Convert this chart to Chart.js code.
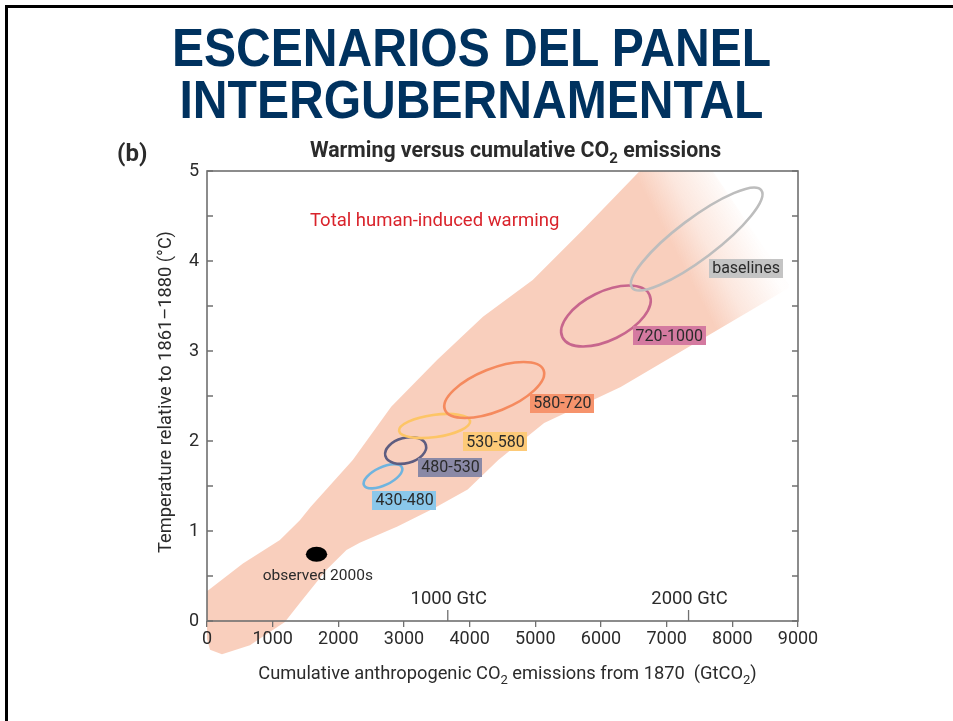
<!DOCTYPE html>
<html>
<head>
<meta charset="utf-8">
<script src="https://cdn.jsdelivr.net/npm/chart.js@4.4.1/dist/chart.umd.min.js"></script>
<style>
  body { margin: 0; background: #fff; }
  #page { position: relative; width: 953px; height: 721px; overflow: hidden; }
  #frame { position: absolute; left: 5px; top: 5px; width: 960px; height: 730px;
           border-left: 3px solid #000; border-top: 3px solid #000; }
  .head { position: absolute; left: -5px; width: 953px; text-align: center; white-space: nowrap;
          font: bold 53px "Liberation Sans", Arial, sans-serif; line-height: 53px; color: #00325f;
          transform: scaleX(0.907); transform-origin: 50% 0; }
  #chart { position: absolute; left: 0; top: 0; }
</style>
</head>
<body>
<div id="page">
  <div id="frame"></div>
  <div class="head" style="top:21px">ESCENARIOS DEL PANEL</div>
  <div class="head" style="top:73px">INTERGUBERNAMENTAL</div>
  <canvas id="chart" width="953" height="721"></canvas>
</div>
<script>
// plume of total human-induced warming (GtCO2, °C), walked round its outline
const plumeX = [0, 0, 547, 1110, 1414, 1580, 2220, 2805, 3503, 4202, 4960, 5714, 6590, 7700, 8860,
                8860, 7696, 6300, 5134, 4436, 3970, 3450, 2900, 2326, 2124, 1820, 1414, 1186, 654, 228, 46, 0];
const plumeY = [-0.2, 0.33, 0.64, 0.90, 1.12, 1.27, 1.79, 2.38, 2.90, 3.38, 3.79, 4.34, 5.0, 5.0, 3.74,
                3.70, 3.20, 2.60, 2.20, 1.79, 1.46, 1.25, 1.05, 0.87, 0.79, 0.57, 0.20, -0.01, -0.27, -0.37, -0.32, -0.2];

// scenario ellipses: centre, end of the long half-axis, short/long ratio
const scenarios = ['430-480', '480-530', '530-580', '580-720', '720-1000', 'baselines'];
const ellCx = [2680, 3025, 3466, 4374, 6075, 7457];
const ellCy = [1.608, 1.894, 2.167, 2.567, 3.389, 4.244];
const ellEx = [2969, 3334, 4007, 5125, 6737, 8441];
const ellEy = [1.707, 1.954, 2.222, 2.788, 3.626, 4.786];
const ellRatio = [0.43, 0.6, 0.31, 0.40, 0.5, 0.25];
const labelX = [3010, 3709, 4393, 5412, 7039, 8209];
const labelY = [1.344, 1.711, 1.989, 2.422, 3.167, 3.922];

const obsX = [1668];
const obsY = [0.742];

const gtcTicks = [1000, 2000];   // GtC, shown on the GtCO2 axis
const co2PerC = 44 / 12;

const lineColors = ['#6fb4df', '#5e5d80', '#fdc566', '#f58a5e', '#c7668d', '#bdbdbd'];
const boxColors = ['#8ac7ea', '#8a89a6', '#fdca78', '#f6936c', '#d47aa0', '#c4c4c4'];
const FONT = 'Roboto, "Liberation Sans", sans-serif';
const INK = '#2b2b2b';

function richText(ctx, parts, x, y, size, weight) {
  const big = weight + ' ' + size + 'px ' + FONT;
  const small = weight + ' ' + Math.round(size * 0.72) + 'px ' + FONT;
  let w = 0;
  parts.forEach(p => { ctx.font = p[1] ? small : big; w += ctx.measureText(p[0]).width; });
  let cx = -w / 2;
  ctx.save();
  ctx.translate(x, y);
  ctx.textAlign = 'left';
  ctx.textBaseline = 'alphabetic';
  parts.forEach(p => {
    ctx.font = p[1] ? small : big;
    ctx.fillText(p[0], cx, p[1] ? size * 0.3 : 0);
    cx += ctx.measureText(p[0]).width;
  });
  ctx.restore();
}

function ellipsePath(ctx, c, e, ratio) {
  const ux = e[0] - c[0], uy = e[1] - c[1];
  ctx.save();
  ctx.beginPath();
  ctx.transform(ux, uy, -uy * ratio, ux * ratio, c[0], c[1]);
  ctx.arc(0, 0, 1, 0, Math.PI * 2);
  ctx.restore();
}

const overlay = {
  id: 'overlay',
  afterDatasetsDraw(chart) {
    const ctx = chart.ctx;
    const xs = chart.scales.x, ys = chart.scales.y;
    const P = (x, y) => [xs.getPixelForValue(x), ys.getPixelForValue(y)];
    const area = chart.chartArea;

    // plume, fading out towards the upper right
    const pts = chart.getDatasetMeta(0).data;
    const g0 = P(6850, 4.5), g1 = P(7900, 4.9);
    const grad = ctx.createLinearGradient(g0[0], g0[1], g1[0], g1[1]);
    grad.addColorStop(0, 'rgba(249,207,189,1)');
    grad.addColorStop(0.4, 'rgba(249,207,189,0.5)');
    grad.addColorStop(1, 'rgba(249,207,189,0.03)');
    ctx.save();
    ctx.beginPath();
    pts.forEach((p, i) => i ? ctx.lineTo(p.x, p.y) : ctx.moveTo(p.x, p.y));
    ctx.closePath();
    ctx.fillStyle = grad;
    ctx.fill();
    ctx.restore();

    // scenario ellipses
    ctx.save();
    ctx.lineWidth = 2.6;
    scenarios.forEach((s, i) => {
      ellipsePath(ctx, P(ellCx[i], ellCy[i]), P(ellEx[i], ellEy[i]), ellRatio[i]);
      ctx.strokeStyle = lineColors[i];
      ctx.stroke();
    });
    // observed 2000s
    ellipsePath(ctx, P(obsX[0], obsY[0]), P(obsX[0] + 163, obsY[0]), 0.7);
    ctx.fillStyle = '#000';
    ctx.fill();
    ctx.restore();

    // scenario labels
    ctx.save();
    ctx.font = '16px ' + FONT;
    ctx.textAlign = 'center';
    ctx.textBaseline = 'middle';
    scenarios.forEach((s, i) => {
      const [x, y] = P(labelX[i], labelY[i]);
      const w = ctx.measureText(s).width + 6;
      ctx.fillStyle = boxColors[i];
      ctx.fillRect(Math.round(x - w / 2), Math.round(y - 9.5), Math.round(w), 19);
      ctx.fillStyle = INK;
      ctx.fillText(s, x, y + 1);
    });
    ctx.font = '15.5px ' + FONT;
    const ob = P(1687, 0.5);
    ctx.fillText('observed 2000s', ob[0], ob[1]);
    ctx.fillStyle = '#d9232b';
    ctx.font = '18.5px ' + FONT;
    const tw = P(3466, 4.444);
    ctx.fillText('Total human-induced warming', tw[0], tw[1]);
    ctx.restore();

    // frame and inward ticks
    ctx.save();
    ctx.strokeStyle = '#707070';
    ctx.lineWidth = 1.6;
    ctx.strokeRect(area.left, area.top, area.right - area.left, area.bottom - area.top);
    ctx.lineWidth = 1.3;
    ctx.beginPath();
    ys.ticks.forEach(t => {
      const y = ys.getPixelForValue(t.value);
      ctx.moveTo(area.left, y); ctx.lineTo(area.left + 6, y);
      ctx.moveTo(area.right, y); ctx.lineTo(area.right - 6, y);
    });
    gtcTicks.forEach(t => {
      const x = xs.getPixelForValue(t * co2PerC);
      ctx.moveTo(x, area.bottom); ctx.lineTo(x, area.bottom - 11);
    });
    ctx.stroke();
    ctx.fillStyle = INK;
    ctx.font = '18.4px ' + FONT;
    ctx.textAlign = 'center';
    ctx.textBaseline = 'alphabetic';
    gtcTicks.forEach(t => {
      const x = xs.getPixelForValue(t * co2PerC);
      ctx.fillText(t + ' GtC', x + 1, area.bottom - 17);
    });

    // titles
    const midX = (area.left + area.right) / 2;
    richText(ctx, [['Warming versus cumulative CO'], ['2', 1], [' emissions']], midX + 13, area.top - 14, 21.3, 'bold');
    ctx.font = 'bold 24px ' + FONT;
    ctx.textAlign = 'left';
    ctx.fillText('(b)', 117, area.top - 10);
    richText(ctx, [['Cumulative anthropogenic CO'], ['2', 1], [' emissions from 1870  (GtCO'], ['2', 1], [')']],
      midX + 5, area.bottom + 58, 18.3, 'normal');
    ctx.translate(171, (area.top + area.bottom) / 2 - 4);
    ctx.rotate(-Math.PI / 2);
    richText(ctx, [['Temperature relative to 1861–1880 (°C)']], 0, 0, 18.3, 'normal');
    ctx.restore();
  }
};

new Chart(document.getElementById('chart'), {
  type: 'scatter',
  data: {
    datasets: [{
      label: 'Total human-induced warming',
      data: plumeX.map((x, i) => ({ x, y: plumeY[i] })),
      pointRadius: 0,
      showLine: false
    }]
  },
  options: {
    responsive: false,
    animation: false,
    devicePixelRatio: 1,
    layout: { padding: { left: 0, top: 171, right: 155, bottom: 0 } },
    plugins: { legend: { display: false }, tooltip: { enabled: false } },
    scales: {
      x: {
        type: 'linear', min: 0, max: 9000,
        afterFit: s => { s.height = 100; },
        ticks: { stepSize: 1000, color: INK, font: { family: FONT, size: 18 }, padding: 2, z: 1, maxRotation: 0,
                 callback: v => String(v) },
        grid: { drawOnChartArea: false, tickLength: 6, color: '#707070', lineWidth: 1.3, z: 1 },
        border: { display: false }
      },
      y: {
        type: 'linear', min: 0, max: 5,
        afterFit: s => { s.width = 207; },
        ticks: { stepSize: 0.5, color: INK, font: { family: FONT, size: 18 }, padding: 8, z: 1,
                 callback: v => Number.isInteger(v) ? String(v) : '' },
        grid: { display: false, drawTicks: false },
        border: { display: false }
      }
    }
  },
  plugins: [overlay]
});
</script>
</body>
</html>
